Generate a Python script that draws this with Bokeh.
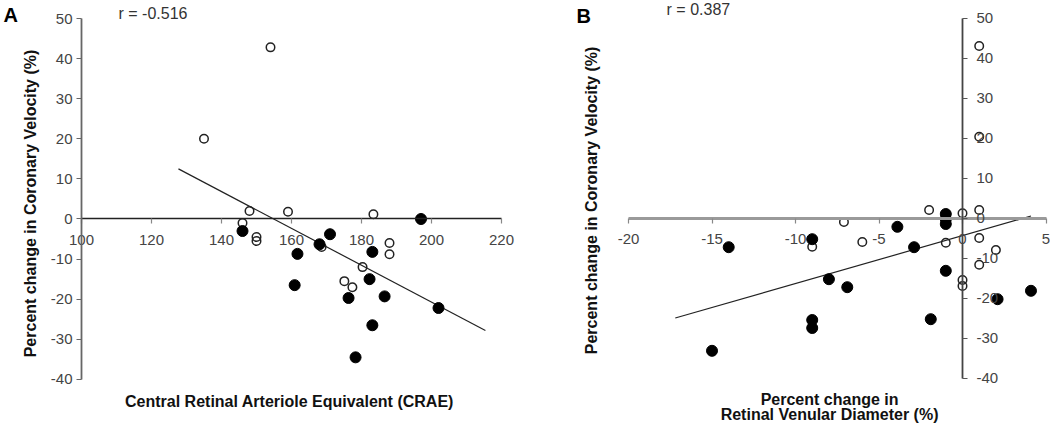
import math
from bokeh.plotting import figure
from bokeh.models import LinearAxis, FixedTicker, Label, Range1d, PrintfTickFormatter
from bokeh.layouts import row
from bokeh.embed import file_html
from bokeh.resources import INLINE

# ---------------- data ----------------
# Panel A: CRAE vs percent change in coronary velocity
a_open_x = [135, 154, 148, 159, 183.4, 146, 150, 150, 168.6, 188, 188, 180.3, 175.1, 177.4]
a_open_y = [20, 42.8, 2, 1.8, 1.2, -1, -5.5, -4.5, -7, -6, -8.8, -12, -15.5, -17]
a_fill_x = [146, 171, 168, 161.7, 183.1, 160.9, 182.3, 176.3, 186.6, 202, 183.1, 178.3, 197]
a_fill_y = [-3, -3.8, -6.3, -8.7, -8.2, -16.5, -15, -19.7, -19.3, -22.2, -26.5, -34.5, 0]
a_fit_x = [127.7, 215.4]
a_fit_y = [12.5, -27.8]
a_xticks = [100, 120, 140, 160, 180, 200, 220]
a_yticks = [-40, -30, -20, -10, 0, 10, 20, 30, 40, 50]
a_r_text = "r = -0.516"

# Panel B: percent change in retinal venular diameter vs coronary velocity
b_open_x = [1, 1, -2, 1, 0, -7.1, 1, -6, -1, 2, 1, 0, 0, -9]
b_open_y = [43, 20.3, 2, 2, 1.2, -1, -5, -6, -6.2, -8, -11.7, -15.5, -17, -7.2]
b_fill_x = [-14, -9, -9, -9, -15, -3.9, -1, -1, -1, -2.9, -1, -8, -6.9, -1.9, 2.1, 4.1]
b_fill_y = [-7.3, -5.3, -25.5, -27.5, -33.2, -2.2, 1, -0.3, -1.5, -7.3, -13.2, -15.3, -17.3, -25.3, -20.3, -18.2]
b_fit_x = [-17.2, 4.1]
b_fit_y = [-25, 0.5]
b_xticks = [-20, -15, -10, -5, 0, 5]
b_yticks = [-40, -30, -20, -10, 0, 10, 20, 30, 40, 50]
b_r_text = "r = 0.387"

y_title = "Percent change in Coronary Velocity (%)"
a_x_title = "Central Retinal Arteriole Equivalent (CRAE)"
b_x_title = ["Percent change in", "Retinal Venular Diameter (%)"]

FONT = "Liberation Sans"
TICK_COLOR = "#444444"
TITLE_SIZE = "16px"


def style_axis(ax, line_color, line_width, tick_color, standoff):
    ax.axis_line_color = line_color
    ax.axis_line_width = line_width
    ax.major_tick_line_color = tick_color
    ax.major_tick_line_width = 1.2
    ax.major_tick_in = 0
    ax.major_tick_out = 5
    ax.minor_tick_line_color = None
    ax.major_label_text_font = FONT
    ax.major_label_text_font_size = "15px"
    ax.major_label_text_color = TICK_COLOR
    ax.major_label_standoff = standoff
    ax.formatter = PrintfTickFormatter(format="%d")


def add_label(p, x, y, text, size=TITLE_SIZE, bold=True, align="center", angle=0.0, color="#111111"):
    p.add_layout(Label(x=x, y=y, text=text, text_font=FONT, text_font_size=size,
                       text_font_style="bold" if bold else "normal",
                       text_align=align, text_baseline="middle", angle=angle,
                       text_color=color))


def base_fig(width, xr, yr):
    p = figure(width=width, height=424, output_backend="svg", toolbar_location=None,
               x_range=Range1d(*xr), y_range=Range1d(*yr),
               x_axis_location=None, y_axis_location=None,
               min_border_left=0, min_border_right=0,
               min_border_top=0, min_border_bottom=0)
    p.outline_line_color = None
    p.xgrid.visible = False
    p.ygrid.visible = False
    p.background_fill_color = "white"
    p.border_fill_color = "white"
    return p


# ---------------- panel A ----------------
pa = base_fig(575, (76.857, 241.14), (-51.25, 54.49))

ya = LinearAxis(ticker=FixedTicker(ticks=a_yticks), bounds=(-40, 50), fixed_location=100)
style_axis(ya, "#666666", 1.8, "#666666", 4)
pa.add_layout(ya, "left")

xa = LinearAxis(ticker=FixedTicker(ticks=a_xticks), bounds=(100, 220), fixed_location=0)
style_axis(xa, "#222222", 1.5, "#888888", 11)
pa.add_layout(xa, "below")

pa.line(a_fit_x, a_fit_y, line_color="#222222", line_width=1.2)
pa.scatter(a_open_x, a_open_y, marker="circle", size=8.5, fill_color=None,
           line_color="#222222", line_width=1.5)
pa.scatter(a_fill_x, a_fill_y, marker="circle", size=11, fill_color="black",
           line_color="black")

add_label(pa, 77.71, 50.75, "A", size="20px", align="left", color="black")
add_label(pa, 110.57, 51.25, a_r_text, size="16px", bold=False, align="left", color="#333333")
add_label(pa, 159.43, -45.51, a_x_title)
add_label(pa, 85.43, 3.87, y_title, angle=math.pi / 2)

# ---------------- panel B ----------------
pb = base_fig(475, (-23.174, 5.269), (-51.625, 54.375))

xb = LinearAxis(ticker=FixedTicker(ticks=b_xticks), bounds=(-20, 5), fixed_location=0)
style_axis(xb, "#9a9a9a", 3, "#888888", 11)
pb.add_layout(xb, "below")

yb = LinearAxis(ticker=FixedTicker(ticks=b_yticks), bounds=(-40, 50), fixed_location=0)
style_axis(yb, "#444444", 1.8, "#555555", 9)
pb.add_layout(yb, "right")

pb.line(b_fit_x, b_fit_y, line_color="#222222", line_width=1.2)
pb.scatter(b_open_x, b_open_y, marker="circle", size=8.5, fill_color=None,
           line_color="#222222", line_width=1.5)
pb.scatter(b_fill_x, b_fill_y, marker="circle", size=11, fill_color="black",
           line_color="black")

add_label(pb, -23.11, 50.6, "B", size="20px", align="left", color="black")
add_label(pb, -17.72, 52.1, b_r_text, size="16px", bold=False, align="left", color="#333333")
add_label(pb, -22.22, 4.4, y_title, angle=math.pi / 2)
add_label(pb, -7.96, -45.4, b_x_title[0])
add_label(pb, -7.96, -49.1, b_x_title[1])

layout = row(pa, pb, spacing=0)

with open("out.html", "w") as f:
    f.write(file_html(layout, INLINE))
